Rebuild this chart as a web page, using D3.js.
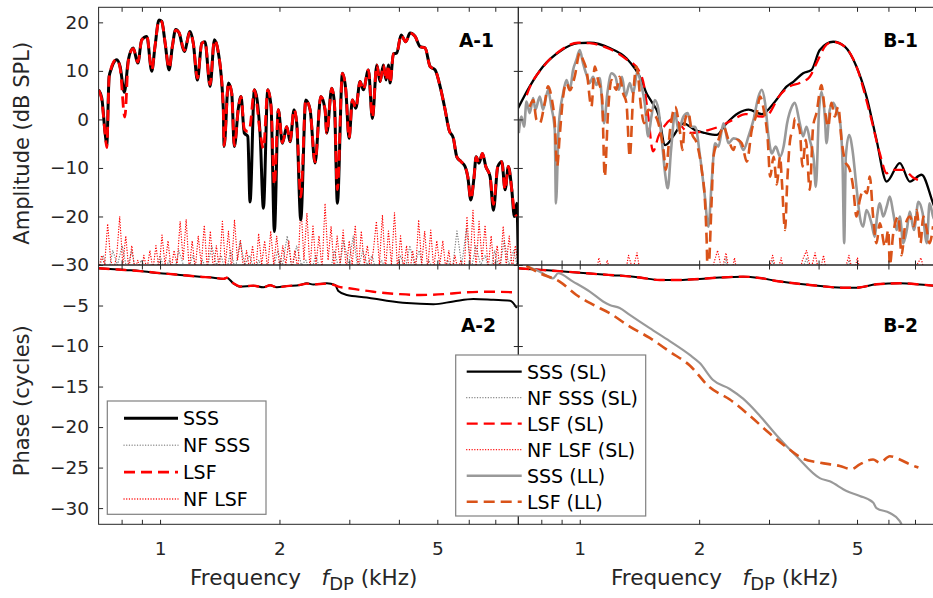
<!DOCTYPE html>
<html><head><meta charset="utf-8">
<script src="https://cdn.jsdelivr.net/npm/d3@7"></script>
<style>
html,body{margin:0;padding:0;background:#fff;}
svg{display:block;font-family:"DejaVu Sans",sans-serif;}
</style></head><body>
<svg id="c" width="933" height="598"></svg>
<script>
// ---------------- DATA (frequency kHz, value) ----------------
const xTickValues = [0.8,0.9,1,2,3,4,5,6,7];
const xTickLabels = [1,2,5];
const ampTicks = [-30,-20,-10,0,10,20];
const phaseTicks = [-30,-25,-20,-15,-10,-5];

// Panel A-1 amplitude
const ampA_SSS = [[0.70,6.1],[0.713,4.4],[0.727,-2.8],[0.734,-5.2],[0.744,8.8],[0.752,10.2],[0.763,11.6],[0.778,12.3],[0.793,10.9],[0.813,5.6],[0.832,12.3],[0.856,14.7],[0.879,11.6],[0.899,16.4],[0.926,17.1],[0.953,9.9],[0.971,15],[0.994,20.5],[1.010,20.2],[1.030,15.7],[1.054,10.2],[1.074,15],[1.095,18.5],[1.117,17.8],[1.151,14],[1.190,18.1],[1.213,15.7],[1.242,8.1],[1.274,15.7],[1.298,16],[1.337,6.8],[1.371,16.4],[1.403,13.7],[1.444,2],[1.450,-5.6],[1.487,7.5],[1.516,5.4],[1.539,-5.6],[1.576,2.4],[1.600,4.7],[1.631,-2.8],[1.664,-3.5],[1.686,-17],[1.729,6.1],[1.787,-2.8],[1.822,-18.3],[1.869,6.1],[1.905,2.6],[1.942,-23.1],[1.987,2],[2.034,-4.9],[2.087,-1.5],[2.127,-4.6],[2.177,2],[2.211,-0.8],[2.263,-20.7],[2.330,4],[2.389,2],[2.459,-9],[2.542,4.7],[2.606,2],[2.632,-2.8],[2.709,6.4],[2.751,3.4],[2.799,-17.3],[2.882,9.5],[2.939,6.1],[2.996,-3.9],[3.054,4],[3.115,2.3],[3.193,7.8],[3.255,6.1],[3.351,10.2],[3.430,0.2],[3.519,11.2],[3.586,7.8],[3.656,11.2],[3.714,8.1],[3.764,11.2],[3.801,7.5],[3.875,13.5],[3.952,13.7],[4.051,17.4],[4.163,16],[4.268,17.8],[4.394,17.1],[4.524,15],[4.658,14.7],[4.795,10.9],[4.936,10.2],[5.081,6.8],[5.231,2],[5.354,-2.2],[5.489,-3.9],[5.598,-7.7],[5.739,-8.7],[5.874,-9.7],[5.967,-11.8],[6.072,-16.6],[6.189,-11.8],[6.262,-7.7],[6.371,-9],[6.494,-7],[6.625,-9.7],[6.792,-11.8],[6.924,-18.7],[7.103,-9.7],[7.270,-8.7],[7.410,-14.5],[7.553,-9.7],[7.703,-14.5],[7.820,-20],[7.932,-17.3],[8.0,-30]];
const ampA_LSF = [[0.70,6],[0.713,4],[0.727,-3],[0.734,-5.8],[0.744,8.6],[0.752,10.4],[0.763,11.8],[0.778,12.4],[0.793,10.6],[0.815,0.5],[0.832,12.1],[0.856,14.6],[0.879,11.8],[0.899,16.3],[0.926,17.2],[0.953,10.2],[0.971,15],[0.994,20.4],[1.010,20.1],[1.030,15.8],[1.054,10.5],[1.074,15],[1.095,18.4],[1.117,17.9],[1.151,14.2],[1.190,18],[1.213,15.6],[1.242,8.5],[1.274,15.6],[1.298,16],[1.337,7.2],[1.371,16.3],[1.403,13.7],[1.444,2.2],[1.450,-5.4],[1.487,7.5],[1.516,5.4],[1.539,-5.4],[1.576,2.4],[1.600,4.7],[1.631,-2],[1.664,-2.5],[1.686,-1.5],[1.729,6.1],[1.787,-2.6],[1.822,-6],[1.869,6.1],[1.905,2.6],[1.942,-13.5],[1.987,2],[2.034,-4.8],[2.087,-1.5],[2.127,-4.5],[2.177,2],[2.211,-0.8],[2.263,-16],[2.330,4],[2.389,2],[2.459,-8.8],[2.542,4.7],[2.606,2],[2.632,-2.8],[2.709,6.4],[2.751,3.4],[2.799,-14.5],[2.882,9.5],[2.939,6.1],[2.996,-3.8],[3.054,4],[3.115,2.3],[3.193,7.8],[3.255,6.1],[3.351,10.2],[3.430,0.4],[3.519,11.2],[3.586,7.8],[3.656,11.2],[3.714,8.1],[3.764,11.2],[3.801,7.5],[3.875,13.5],[3.952,13.7],[4.051,17.4],[4.163,16],[4.268,17.8],[4.394,17.1],[4.524,15],[4.658,14.7],[4.795,10.9],[4.936,10.2],[5.081,6.8],[5.231,2],[5.354,-2.2],[5.489,-3.9],[5.598,-7.7],[5.739,-8.7],[5.874,-9.7],[5.967,-11.8],[6.072,-16.4],[6.189,-11.8],[6.262,-7.7],[6.371,-9],[6.494,-7],[6.625,-9.7],[6.792,-11.8],[6.924,-17.5],[7.103,-9.7],[7.270,-8.7],[7.410,-14.5],[7.553,-9.7],[7.703,-14.5],[7.820,-19],[7.932,-20]];
// Noise floors A-1 (values on an evenly log-spaced frequency grid 0.7-8 kHz)
const nfA_LSF = [-31,-28,-30,-21.5,-29,-31,-28,-20,-30,-24,-31,-26,-31,-29,-32,-28,-31,-27,-31,-26,-31,-23.8,-30,-25,-31,-27,-30,-21,-29,-20.6,-31,-25,-31,-24,-30,-21.8,-31,-23,-31,-26,-31,-21,-30,-23,-31,-20.7,-29,-25,-31,-27,-31,-26,-32,-23.5,-30,-25,-31,-23,-30,-24,-31,-26,-30,-25,-31,-27,-31,-17.3,-29,-19.3,-31,-22,-30,-24,-31,-17.3,-29,-22,-31,-24,-30,-22.8,-31,-25,-30,-21.8,-31,-23,-30,-26,-31,-27,-21,-30,-19.7,-31,-23,-30,-19.2,-31,-24,-31,-26,-32,-27,-31,-20.7,-30,-23,-31,-22.8,-31,-25,-30,-25,-31,-27,-32,-28,-31,-29,-32,-20,-30,-18.7,-31,-21,-29,-21.8,-31,-24,-31,-26,-31,-22,-30,-24,-31,-26,-30];
const nfA_SSS = [-31,-28,-32,-27,-30,-26,-31,-27,-32,-29,-31,-30,-32,-28,-31,-29,-32,-27,-30,-31,-28,-32,-29,-31,-26,-30,-28,-32,-27,-31,-25,-30,-28,-31,-29,-32,-30,-31,-27,-30,-24,-31,-26,-30,-29,-32,-28,-31,-30,-32,-27,-31,-25,-30,-24,-31,-27,-30,-28,-32,-29,-31,-30,-32,-28,-31,-26,-30,-27,-32,-29,-31,-30,-32,-29,-31,-23,-30,-22.5,-31,-26,-30,-28,-32,-27,-31,-25,-30,-27,-31];

// Panel B-1 amplitude
const ampB_SSS_SL = [[0.699,2.3],[0.748,6.8],[0.808,10.9],[0.890,14],[0.990,15.7],[1.060,15.8],[1.190,14.7],[1.311,12.6],[1.430,8.1],[1.473,5.4],[1.516,3.7],[1.579,1],[1.641,-5.3],[1.667,-5],[1.719,-3.5],[1.826,-0.8],[1.953,-2.2],[2.070,-2.8],[2.215,-3.2],[2.328,-1.1],[2.513,1.3],[2.663,2],[2.876,1.1],[3.108,3.7],[3.326,6.8],[3.460,7.8],[3.656,9.5],[3.839,10.2],[4.028,14.3],[4.354,16],[4.658,15],[4.983,10.9],[5.283,4.7],[5.598,-4.2],[5.939,-12.8],[6.409,-9],[6.792,-12.8],[7.272,-11.4],[7.775,-17.3],[8.0,-20]];
const ampB_LSF_SL = [[0.735,5],[0.748,6.6],[0.808,10.8],[0.890,14.1],[0.990,15.8],[1.060,15.7],[1.190,14.5],[1.311,12.4],[1.403,10.3],[1.452,7],[1.487,1],[1.530,-6.6],[1.579,-3.5],[1.648,-1],[1.706,0],[1.774,-0.7],[1.843,-2.2],[1.916,-2.8],[2.007,-2.6],[2.110,-2.2],[2.303,-1.1],[2.441,0],[2.617,1.1],[2.876,0.6],[2.991,1.1],[3.175,4.7],[3.385,6.8],[3.586,7.5],[3.801,8.8],[3.952,11.6],[4.188,15.4],[4.354,16],[4.658,15],[4.983,10.9],[5.384,1.3],[5.707,-7],[5.939,-11.1],[6.170,-10.4],[6.540,-10.4],[6.957,-12.1],[7.140,-12.5]];
const ampB_SSS_LL = [[0.702,-2.8],[0.713,0.6],[0.724,-1.5],[0.734,3.7],[0.748,1.3],[0.763,4.4],[0.773,2],[0.793,4.7],[0.808,2],[0.832,6.1],[0.848,2.6],[0.865,-2.2],[0.871,-17.3],[0.885,-1.5],[0.908,5.4],[0.926,8.1],[0.944,6.1],[0.962,10.2],[0.981,12.3],[1.0,14.3],[1.019,11.6],[1.040,9.2],[1.060,7.5],[1.080,8.8],[1.102,7.1],[1.123,8.5],[1.151,-0.8],[1.174,5.4],[1.202,9.5],[1.230,8.8],[1.254,6.1],[1.278,8.8],[1.304,4.7],[1.337,7.5],[1.363,5.4],[1.398,9.9],[1.425,7.5],[1.458,3.4],[1.487,-3.5],[1.516,0.6],[1.546,4],[1.579,2],[1.610,-4.2],[1.641,-11.1],[1.667,-14.2],[1.699,-6.3],[1.739,1.3],[1.774,-2.2],[1.826,0.6],[1.872,1.3],[1.911,-1.5],[1.953,-1.5],[2.011,-7.7],[2.063,-15.2],[2.110,-22.1],[2.152,-12.5],[2.193,-4.9],[2.237,-5.6],[2.303,-0.8],[2.371,-4.9],[2.441,-3.9],[2.513,-4.2],[2.586,-6.3],[2.663,-3.5],[2.741,-0.1],[2.822,4.7],[2.876,6.1],[2.932,3.4],[2.991,-3.5],[3.048,-7],[3.120,-5.6],[3.199,-7.7],[3.265,-5.6],[3.332,-0.8],[3.425,2.6],[3.484,3.4],[3.586,-0.8],[3.656,-3.5],[3.729,-1.5],[3.801,-4.2],[3.891,-8.4],[3.936,-13.9],[4.012,2],[4.067,5.7],[4.147,0.6],[4.188,-4.9],[4.268,2],[4.354,3.4],[4.438,2],[4.524,-0.1],[4.597,-9],[4.641,-25.5],[4.685,-7.7],[4.775,-3.2],[4.870,-6.3],[4.983,-13.9],[5.081,-20],[5.180,-22.1],[5.283,-18.7],[5.437,-21.4],[5.543,-24.2],[5.617,-20],[5.707,-17.3],[5.822,-20],[5.939,-18],[6.048,-15.9],[6.170,-19.3],[6.295,-22.8],[6.409,-20],[6.540,-25.5],[6.675,-22.8],[6.792,-19],[6.957,-22.8],[7.140,-17],[7.316,-19.3],[7.497,-25.5],[7.616,-17.3],[7.775,-20],[8.0,-22]];
const ampB_LSF_LL = [[0.748,2.6],[0.763,4],[0.778,-0.1],[0.793,-0.8],[0.816,3.4],[0.832,6.8],[0.848,4.7],[0.865,-0.8],[0.877,-9.7],[0.890,-3.5],[0.908,4.7],[0.926,7.5],[0.944,6],[0.971,8.8],[1.0,13.7],[1.019,12.3],[1.040,10.2],[1.070,2.6],[1.091,10.9],[1.112,8.1],[1.138,4.7],[1.156,-11.8],[1.178,1.3],[1.202,8.1],[1.237,6.1],[1.261,8.8],[1.286,5.4],[1.311,3.4],[1.337,-7.7],[1.363,4.7],[1.390,10.9],[1.430,2],[1.452,-0.8],[1.487,2],[1.534,1.3],[1.579,-0.8],[1.626,-6.3],[1.648,-10.4],[1.689,-2.2],[1.739,2.6],[1.791,-2.8],[1.815,-6.3],[1.843,-0.1],[1.880,1.3],[1.916,-2.8],[1.972,-4.9],[2.030,-10.4],[2.070,-17.3],[2.090,-25.5],[2.102,-33],[2.152,-15.9],[2.172,-7.7],[2.237,-4.2],[2.303,-1.5],[2.371,-4.2],[2.441,-6.3],[2.488,-4.2],[2.561,-4.9],[2.637,-8.7],[2.714,-2.2],[2.794,1.3],[2.848,4.7],[2.909,2],[2.978,-4.2],[3.019,-11.8],[3.081,-7.7],[3.139,-13.4],[3.199,-7.7],[3.231,-12.5],[3.293,-22.8],[3.332,-13.4],[3.391,-4.2],[3.460,-1.5],[3.484,0.2],[3.586,-2.2],[3.643,-9.7],[3.714,-4.2],[3.801,-14.5],[3.875,-1.5],[3.952,1.3],[4.067,7.1],[4.147,2],[4.229,-1.5],[4.311,3.4],[4.394,0.6],[4.483,2.6],[4.570,-4.2],[4.658,-8.4],[4.795,-10.4],[4.888,-13.9],[4.983,-20],[5.081,-16.6],[5.180,-14.5],[5.301,-15.2],[5.384,-11.8],[5.489,-20],[5.598,-25.5],[5.707,-21.4],[5.880,-26.2],[5.997,-22.8],[6.048,-30],[6.170,-23.5],[6.356,-20],[6.475,-28],[6.607,-22],[6.792,-20],[6.957,-22],[7.070,-18.7],[7.228,-25.5],[7.343,-20],[7.497,-22.8],[7.616,-25.5],[7.775,-22]];
const nfB_LSF = [-33,-34,-33,-32,-34,-33,-34,-33,-32,-34,-33,-34,-33,-32,-34,-33,-31,-33,-34,-28.5,-32,-29,-33,-34,-32,-33,-28,-31,-27.5,-33,-34,-32,-33,-34,-33,-32,-34,-33,-34,-33,-32,-34,-33,-32,-34,-33,-30,-27,-31,-27.5,-33,-28.5,-34,-33,-32,-34,-33,-34,-32,-31,-28,-32,-28.5,-33,-34,-32,-33,-29,-27,-31,-27.5,-32,-28,-33,-34,-32,-33,-31,-28,-32,-28.5,-33,-34,-33,-32,-34,-33,-32,-34,-33,-32,-33,-34,-31,-30,-28.5,-32,-33,-34,-33];
const nfB_SSS = [-34,-33,-34,-33,-34,-33,-34,-33,-34,-33,-34,-33,-34,-33,-34,-33,-32,-34,-33,-31,-34,-33,-34,-33,-34,-33,-31,-33,-30,-34,-33,-34,-33,-34,-33,-34,-33,-34,-33,-34,-33,-34,-33,-34,-33,-32,-33,-30,-33,-28.5,-34,-31,-33,-34,-33,-34,-33,-34,-33,-32,-29,-33,-31,-34,-33,-34,-33,-31,-28.5,-33,-30,-34,-33,-34,-33,-34,-33,-32,-29,-33,-31,-34,-33,-34,-33,-34,-33,-34,-33,-34,-33,-34,-33,-32,-30,-33,-34,-33,-34,-33];

// Phase A-2
const phA_SSS = [[0.70,-0.41],[0.748,-0.49],[0.816,-0.62],[0.890,-0.74],[1.0,-1.02],[1.080,-1.15],[1.168,-1.31],[1.261,-1.44],[1.363,-1.56],[1.444,-1.72],[1.473,-1.56],[1.530,-2.26],[1.591,-2.67],[1.719,-2.55],[1.822,-2.75],[1.894,-2.5],[1.969,-2.75],[2.087,-2.6],[2.254,-2.46],[2.344,-2.26],[2.435,-2.4],[2.632,-2.26],[2.762,-2.46],[2.815,-3.2],[2.956,-3.7],[3.320,-4.0],[3.729,-4.4],[4.188,-4.7],[4.888,-4.84],[5.489,-4.5],[6.165,-4.2],[6.924,-4.3],[7.627,-4.4],[7.932,-5.3]];
const phA_LSF = [[0.70,-0.4],[0.748,-0.5],[0.816,-0.62],[0.890,-0.75],[1.0,-1.0],[1.080,-1.15],[1.168,-1.3],[1.261,-1.45],[1.363,-1.56],[1.444,-1.7],[1.473,-1.58],[1.530,-2.25],[1.591,-2.65],[1.719,-2.55],[1.822,-2.75],[1.894,-2.5],[1.969,-2.75],[2.087,-2.6],[2.254,-2.45],[2.344,-2.3],[2.435,-2.4],[2.632,-2.3],[2.762,-2.5],[2.815,-2.67],[2.996,-2.87],[3.449,-3.3],[4.028,-3.6],[4.524,-3.7],[5.180,-3.6],[5.933,-3.36],[6.664,-3.3],[7.776,-3.36]];
// Phase B-2
const phB_SSS_SL = [[0.699,-0.4],[0.793,-0.6],[0.926,-0.82],[1.0,-0.95],[1.123,-1.15],[1.261,-1.31],[1.417,-1.55],[1.591,-1.85],[1.787,-1.85],[2.007,-1.72],[2.254,-1.55],[2.581,-1.44],[2.843,-1.6],[3.133,-1.97],[3.801,-2.46],[4.614,-2.8],[4.983,-2.8],[5.598,-2.38],[6.409,-2.26],[7.198,-2.4],[7.789,-2.55],[8.0,-2.6]];
const phB_LSF_SL = [[0.70,-0.4],[0.793,-0.6],[0.926,-0.82],[1.0,-0.95],[1.123,-1.15],[1.261,-1.31],[1.417,-1.55],[1.591,-1.85],[1.787,-1.85],[2.007,-1.72],[2.254,-1.55],[2.581,-1.44],[2.843,-1.6],[3.133,-1.97],[3.801,-2.46],[4.614,-2.8],[4.983,-2.8],[5.598,-2.38],[6.409,-2.26],[7.198,-2.4],[7.789,-2.55],[8.0,-2.6]];
const phB_SSS_LL = [[0.734,-0.12],[0.793,-0.82],[0.856,-1.64],[0.882,-1.02],[0.962,-2.05],[1.060,-3.28],[1.145,-4.5],[1.190,-4.93],[1.261,-5.3],[1.337,-6.16],[1.501,-7.8],[1.686,-9.4],[1.894,-11.1],[2.007,-12.1],[2.168,-14.2],[2.389,-15.3],[2.581,-16.5],[2.843,-18.6],[3.133,-21.0],[3.518,-23.6],[4.028,-26.3],[4.268,-26.7],[4.704,-27.9],[5.081,-28.5],[5.489,-29.3],[5.598,-30],[6.048,-30.6],[6.409,-31.6],[6.475,-32]];
const phB_LSF_LL = [[0.734,-0.12],[0.793,-1.02],[0.890,-2.05],[0.981,-3.7],[1.080,-4.9],[1.190,-5.95],[1.337,-7.6],[1.501,-9.0],[1.686,-10.7],[1.894,-12.4],[2.127,-15.1],[2.389,-16.6],[2.683,-18.6],[3.013,-20.8],[3.385,-22.8],[3.656,-23.9],[4.028,-24.4],[4.524,-24.8],[4.842,-25.2],[5.081,-24.6],[5.489,-24],[5.707,-24.4],[6.048,-23.6],[6.409,-24],[6.792,-24.6],[7.140,-25.0]];

const legendA = ["SSS","NF SSS","LSF","NF LSF"];
const legendB = ["SSS (SL)","NF SSS (SL)","LSF (SL)","NF LSF (SL)","SSS (LL)","LSF (LL)"];

// ---------------- STYLES ----------------
const ST = {
  sssA:{color:"#000000",w:3},
  lsfA:{color:"#ff0000",w:2.8,dash:"11,6"},
  nfS:{color:"#7f7f7f",w:1.3,dash:"0.1,2.6",cap:"round",linear:true},
  nfL:{color:"#ff0000",w:1.3,dash:"0.1,2.6",cap:"round",linear:true},
  sssSL:{color:"#000000",w:2.3},
  lsfSL:{color:"#ff0000",w:2.3,dash:"11,6"},
  sssLL:{color:"#999999",w:2.6},
  lsfLL:{color:"#D95319",w:2.6,dash:"11,6"},
  phS:{color:"#000000",w:2},
  phL:{color:"#ff0000",w:2.4,dash:"11,6"},
  phSLL:{color:"#999999",w:2.2},
  phLLL:{color:"#D95319",w:2.6,dash:"11,6"}
};

// ---------------- SCALES ----------------
const svg = d3.select("#c");
const xL = d3.scaleLog().domain([0.7,8]).range([98.6,518.3]);
const xR = d3.scaleLog().domain([0.7,8]).range([518.3,938]);
const yA = d3.scaleLinear().domain([-30,23.1]).range([265,7.3]);
const yP = d3.scaleLinear().domain([-32,0]).range([524.3,265]);
const P = {
  A1:{id:"A1",x:xL,y:yA}, B1:{id:"B1",x:xR,y:yA},
  A2:{id:"A2",x:xL,y:yP}, B2:{id:"B2",x:xR,y:yP}
};
const logGrid = n => d3.range(n).map(i => 0.7*Math.pow(8/0.7, i/(n-1)));
const onGrid = vals => { const g = logGrid(vals.length); return vals.map((v,i)=>[g[i],v]); };

const defs = svg.append("defs");
const layers = {};
Object.values(P).forEach(p=>{
  const [x0,x1]=p.x.range(), [y0,y1]=p.y.range();
  defs.append("clipPath").attr("id","clip"+p.id).append("rect")
    .attr("x",x0).attr("y",y1).attr("width",x1-x0).attr("height",y0-y1);
  layers[p.id] = svg.append("g").attr("clip-path",`url(#clip${p.id})`);
});

function plot(p, data, st){
  const line = d3.line().x(d=>p.x(d[0])).y(d=>p.y(d[1]))
    .curve(st.linear ? d3.curveLinear : d3.curveMonotoneX);
  layers[p.id].append("path").datum(data).attr("d",line)
    .attr("fill","none").attr("stroke",st.color).attr("stroke-width",st.w)
    .attr("stroke-dasharray",st.dash||null).attr("stroke-linejoin","round")
    .attr("stroke-linecap",st.cap||"butt");
}

// A-1
plot(P.A1, onGrid(nfA_SSS), ST.nfS);
plot(P.A1, onGrid(nfA_LSF), ST.nfL);
plot(P.A1, ampA_SSS, ST.sssA);
plot(P.A1, ampA_LSF, ST.lsfA);
// B-1
plot(P.B1, onGrid(nfB_SSS), ST.nfS);
plot(P.B1, onGrid(nfB_LSF), ST.nfL);
plot(P.B1, ampB_SSS_SL, ST.sssSL);
plot(P.B1, ampB_LSF_SL, ST.lsfSL);
plot(P.B1, ampB_SSS_LL, ST.sssLL);
plot(P.B1, ampB_LSF_LL, ST.lsfLL);
// A-2
plot(P.A2, phA_SSS, ST.phS);
plot(P.A2, phA_LSF, ST.phL);
// B-2
plot(P.B2, phB_SSS_SL, ST.phS);
plot(P.B2, phB_LSF_SL, ST.phL);
plot(P.B2, phB_SSS_LL, ST.phSLL);
plot(P.B2, phB_LSF_LL, ST.phLLL);

// ---------------- AXES ----------------
const AX = "#262626";
const fmt = d => d < 0 ? "\u2212" + Math.abs(d) : String(d);
const none = () => "";
function styleAxis(sel){
  sel.select(".domain").remove();
  sel.selectAll("line").attr("stroke",AX);
  sel.selectAll("text").attr("fill",AX).attr("font-size",18.5).attr("font-family","DejaVu Sans");
}
function axes(p, yTicks, showY, showX){
  const [x0,x1]=p.x.range(), [y0,y1]=p.y.range();
  const g = svg.append("g");
  g.append("g").attr("transform",`translate(${x0},0)`)
    .call(d3.axisLeft(p.y).tickValues(yTicks).tickSize(-4.5).tickPadding(9.6).tickFormat(showY?fmt:none)).call(styleAxis);
  g.append("g").attr("transform",`translate(${x1},0)`)
    .call(d3.axisRight(p.y).tickValues(yTicks).tickSize(-4.5).tickFormat(none)).call(styleAxis);
  g.append("g").attr("transform",`translate(0,${y0})`)
    .call(d3.axisBottom(p.x).tickValues(xTickValues).tickSize(-4.5).tickPadding(18)
      .tickFormat(showX ? (d => xTickLabels.includes(d) ? String(d) : "") : none)).call(styleAxis);
  g.append("g").attr("transform",`translate(0,${y1})`)
    .call(d3.axisTop(p.x).tickValues(xTickValues).tickSize(-4.5).tickFormat(none)).call(styleAxis);
  g.append("rect").attr("x",x0).attr("y",y1).attr("width",x1-x0).attr("height",y0-y1)
    .attr("fill","none").attr("stroke",AX).attr("stroke-width",1);
}
axes(P.A1, ampTicks, true, false);
axes(P.B1, ampTicks, false, false);
axes(P.A2, phaseTicks, true, true);
axes(P.B2, phaseTicks, false, true);

// axis titles
svg.append("text").attr("transform","translate(28.5,143.3) rotate(-90)")
  .attr("text-anchor","middle").attr("font-size",21).attr("fill",AX).text("Amplitude (dB SPL)");
svg.append("text").attr("transform","translate(28.5,400.8) rotate(-90)")
  .attr("text-anchor","middle").attr("font-size",21).attr("fill",AX).text("Phase (cycles)");
[190, 611].forEach(x0=>{
  const t = svg.append("text").attr("x",x0).attr("y",585).attr("font-size",21.5).attr("fill",AX);
  t.append("tspan").text("Frequency\u00a0\u00a0\u00a0");
  t.append("tspan").attr("font-style","italic").text("f");
  t.append("tspan").attr("font-size",18).attr("dy",5).text("DP");
  t.append("tspan").attr("dy",-5).text("\u00a0(kHz)");
});

// panel labels
[["A-1",494,47],["B-1",918,47],["A-2",496,332],["B-2",918,332]].forEach(([s,x,y])=>{
  svg.append("text").attr("x",x).attr("y",y).attr("text-anchor","end")
    .attr("font-size",18.6).attr("font-weight","bold").attr("fill","#000").text(s);
});

// ---------------- LEGENDS ----------------
function legend(box, items, styles, lx0, lx1, tx, y0, dy){
  const g = svg.append("g");
  g.append("rect").attr("x",box[0]).attr("y",box[1]).attr("width",box[2]).attr("height",box[3])
    .attr("fill","#fff").attr("stroke","#808080").attr("stroke-width",1.2);
  items.forEach((name,i)=>{
    const y = y0 + i*dy, st = styles[i];
    g.append("line").attr("x1",lx0).attr("x2",lx1).attr("y1",y).attr("y2",y)
      .attr("stroke",st.color).attr("stroke-width",st.w)
      .attr("stroke-dasharray",st.dash||null).attr("stroke-linecap",st.cap||"butt");
    g.append("text").attr("x",tx).attr("y",y).attr("dy","0.36em")
      .attr("font-size",19).attr("fill","#000").text(name);
  });
}
legend([107.3,401,158.7,113.3], legendA, [ST.sssA,ST.nfS,ST.lsfA,ST.nfL], 124,178,183,418.3,26.9);
legend([455.7,355,190,161], legendB, [ST.sssSL,ST.nfS,ST.lsfSL,ST.nfL,ST.sssLL,ST.lsfLL], 466.7,521.7,527,371.7,26);
</script>
</body></html>
